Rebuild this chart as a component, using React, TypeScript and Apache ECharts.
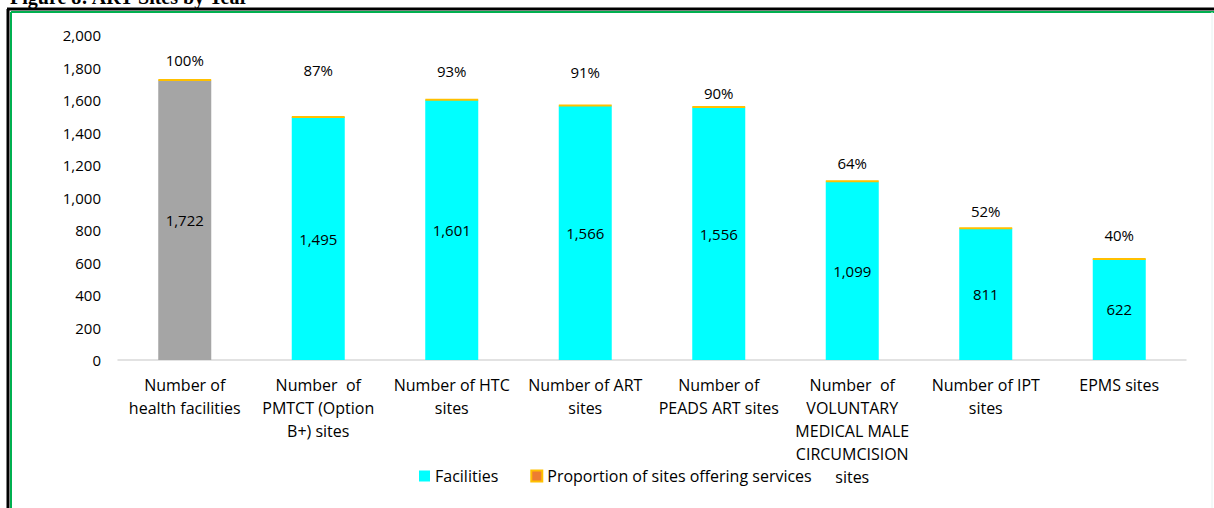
import React, { useEffect, useRef } from "react";
import * as echarts from "echarts";

const categories = [
  "Number of\nhealth facilities",
  "Number  of\nPMTCT (Option\nB+) sites",
  "Number of HTC\nsites",
  "Number of ART\nsites",
  "Number of\nPEADS ART sites",
  "Number  of\nVOLUNTARY\nMEDICAL MALE\nCIRCUMCISION\nsites",
  "Number of IPT\nsites",
  "EPMS sites",
];
const facilities = [1722, 1495, 1601, 1566, 1556, 1099, 811, 622];
const proportion = [1.0, 0.87, 0.93, 0.91, 0.9, 0.64, 0.52, 0.4];
const yTicks = { min: 0, max: 2000, interval: 200 };

// label lift (px) of each percentage label above its bar, as placed in the reference
const pctLift = [12, 38, 20, 25, 6, 10, 9, 15];

const FONT = "Open Sans";

export default function App() {
  const ref = useRef<HTMLDivElement>(null);
  useEffect(() => {
    if (!ref.current) return;
    const chart = echarts.init(ref.current, undefined, { renderer: "svg" });
    chart.setOption({
      animation: false,
      backgroundColor: "#ffffff",
      textStyle: { fontFamily: FONT, color: "#000" },
      grid: { left: 118, right: 28, top: 35, bottom: 148, containLabel: false },
      legend: {
        bottom: 19,
        left: 414,
        itemGap: 32,
        itemWidth: 11,
        itemHeight: 11,
        textStyle: { fontFamily: FONT, fontSize: 16, color: "#000" },
        data: [
          { name: "Facilities", icon: "rect" },
          { name: "Proportion of sites offering services", icon: "rect" },
        ],
      },
      xAxis: {
        type: "category",
        data: categories,
        axisLine: { lineStyle: { color: "#d9d9d9", width: 1.5 } },
        axisTick: { show: false },
        axisLabel: {
          interval: 0,
          margin: 13,
          fontFamily: FONT,
          fontSize: 16,
          lineHeight: 23,
          color: "#000",
          align: "center",
        },
      },
      yAxis: {
        type: "value",
        min: yTicks.min,
        max: yTicks.max,
        interval: yTicks.interval,
        splitLine: { show: false },
        axisLine: { show: false },
        axisTick: { show: false },
        axisLabel: {
          margin: 17,
          fontFamily: FONT,
          fontSize: 15,
          color: "#000",
          formatter: (v: number) => v.toLocaleString("en-US"),
        },
      },
      series: [
        {
          name: "Facilities",
          type: "bar",
          stack: "s",
          barWidth: 53,
          itemStyle: { color: "#00FFFF" },
          data: facilities.map((v, i) =>
            i === 0 ? { value: v, itemStyle: { color: "#A5A5A5" } } : v
          ),
          label: {
            show: true,
            position: "inside",
            fontFamily: FONT,
            fontSize: 15,
            color: "#000",
            formatter: (p: any) => Number(p.value).toLocaleString("en-US"),
          },
        },
        {
          name: "Proportion of sites offering services",
          type: "bar",
          stack: "s",
          barWidth: 53,
          itemStyle: { color: "#ED7D31", borderColor: "#FFC000", borderWidth: 2 },
          data: proportion.map((v, i) => ({
            value: v,
            label: { offset: [0, -pctLift[i]] },
          })),
          label: {
            show: true,
            position: "top",
            distance: 0,
            fontFamily: FONT,
            fontSize: 15,
            color: "#000",
            formatter: (p: any) => Math.round(Number(p.value) * 100) + "%",
          },
        },
      ],
      graphic: [
        {
          type: "text",
          left: 10,
          top: -13,
          style: {
            text: "Figure 8: ART Sites by Year",
            font: "bold 20px 'Liberation Serif', serif",
            fill: "#000",
          },
          z: 10,
        },
        {
          type: "line",
          shape: { x1: 8, y1: 9, x2: 8, y2: 508 },
          style: { stroke: "#000", lineWidth: 3 },
          z: 10,
        },
        {
          type: "line",
          shape: { x1: 7, y1: 9, x2: 1214, y2: 9 },
          style: { stroke: "#000", lineWidth: 3 },
          z: 10,
        },
        {
          type: "line",
          shape: { x1: 11, y1: 12, x2: 11, y2: 508 },
          style: { stroke: "#00B050", lineWidth: 2 },
          z: 10,
        },
        {
          type: "line",
          shape: { x1: 11, y1: 12, x2: 1214, y2: 12 },
          style: { stroke: "#00B050", lineWidth: 2 },
          z: 10,
        },
        {
          type: "line",
          shape: { x1: 1212, y1: 12, x2: 1212, y2: 508 },
          style: { stroke: "#e6f2f0", lineWidth: 1 },
          z: 10,
        },
      ],
    });
    return () => chart.dispose();
  }, []);
  return (
    <div
      ref={ref}
      style={{ position: "absolute", left: 0, top: 0, width: 1214, height: 508 }}
    />
  );
}
